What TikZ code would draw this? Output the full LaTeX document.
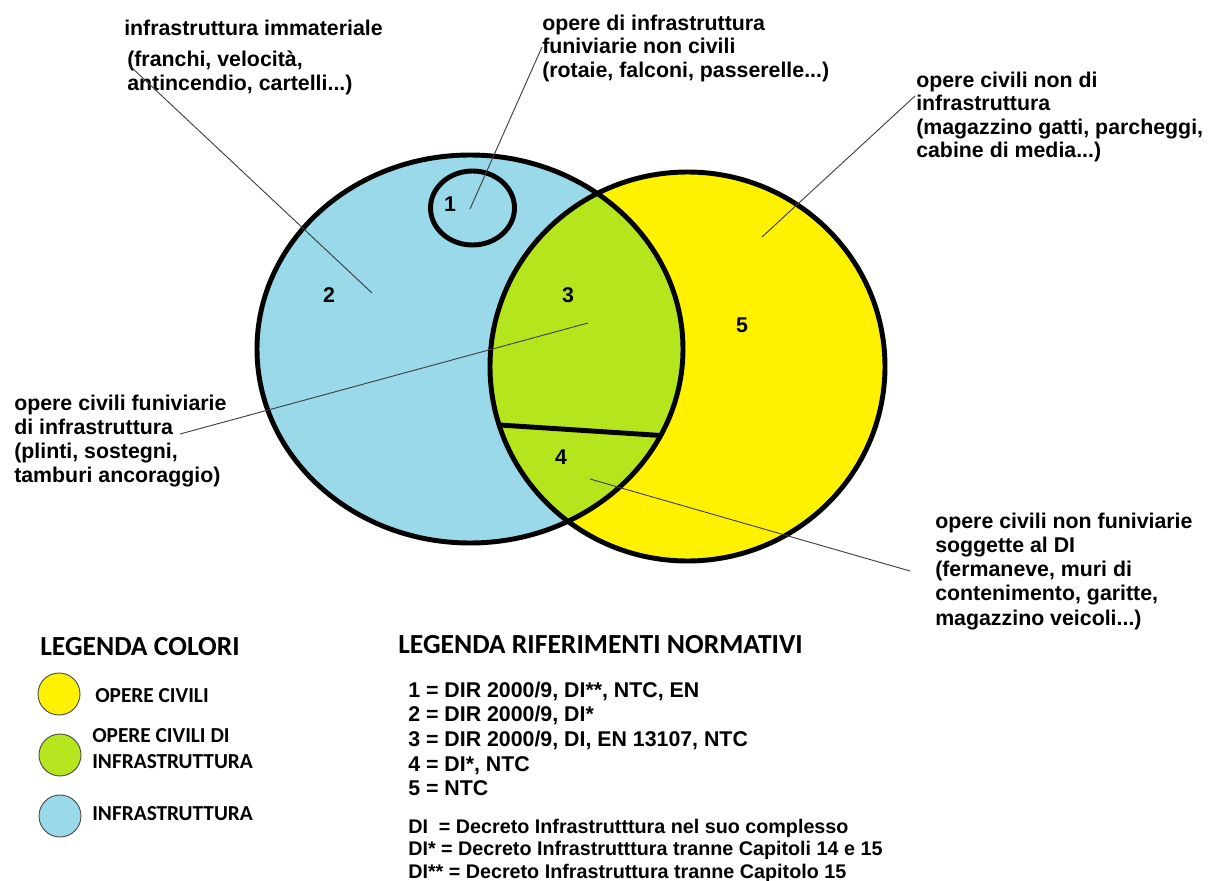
\documentclass[tikz,border=0pt]{standalone}
\usepackage{fontspec}
\setmainfont{Liberation Sans}
\newfontfamily\legfont{Carlito}
\usepackage{tikz}
\usetikzlibrary{positioning}
\definecolor{infra}{RGB}{153,217,234}
\definecolor{civili}{RGB}{255,242,0}
\definecolor{misto}{RGB}{181,230,29}

\begin{document}
\begin{tikzpicture}[x=0.75pt, y=-0.75pt,
  bordo/.style={line width=3.7pt},
  leader/.style={line width=0.7pt, black!75},
  note/.style={inner sep=0pt, anchor=north west, align=left, font=\bfseries\fontsize{16}{17.6}\selectfont},
  num/.style={inner sep=0pt, font=\bfseries\fontsize{16}{18}\selectfont},
  leg/.style={inner sep=0pt, anchor=base west, font=\legfont\bfseries\fontsize{16}{19.5}\selectfont},
  legtitle/.style={leg, font=\legfont\bfseries\fontsize{20.7}{24}\selectfont},
  dot/.style={circle, draw=black!70, line width=0.7pt, minimum size=31.5pt, inner sep=0pt}]
  \useasboundingbox (0,0) rectangle (1208,881);
  % the two sets
  \fill[infra] (470,349) ellipse [x radius=213, y radius=194];
  \fill[civili] (687.5,366.5) ellipse [x radius=197.5, y radius=194.5];
  \begin{scope}
    \clip (470,349) ellipse [x radius=213, y radius=194];
    \fill[misto] (687.5,366.5) ellipse [x radius=197.5, y radius=194.5];
    \clip (687.5,366.5) ellipse [x radius=197.5, y radius=194.5];
    \draw[bordo] (480,423.7) -- (690,437.4); % 3 / 4
  \end{scope}
  \draw[bordo] (470,349) ellipse [x radius=213, y radius=194];
  \draw[bordo] (687.5,366.5) ellipse [x radius=197.5, y radius=194.5];
  \draw[bordo] (472.5,208) ellipse [x radius=42, y radius=37];
  % zone numbers
  \node[num] (n1) at (450,204) {1};
  \node[num] (n2) at (329,295) {2};
  \node[num] (n3) at (568,295) {3};
  \node[num] (n4) at (561,457) {4};
  \node[num] (n5) at (742,325) {5};
  % notes
  \node[note] (tImmat) at (124,19.4) {infrastruttura immateriale};
  \node[note, font=\bfseries\fontsize{16}{18}\selectfont] (tImmatEs) at (127,51) {(franchi, velocità,\\antincendio, cartelli...)};
  \node[note] (tUno) at (542,14.4) {opere di infrastruttura\\funiviarie non civili\\(rotaie, falconi, passerelle...)};
  \node[note] (tCinque) at (916,71.4) {opere civili non di\\infrastruttura\\(magazzino gatti, parcheggi,\\cabine di media...)};
  \node[note, font=\bfseries\fontsize{16}{18}\selectfont] (tTre) at (14,394.4) {opere civili funiviarie\\di infrastruttura\\(plinti, sostegni,\\tamburi ancoraggio)};
  \node[note, font=\bfseries\fontsize{16}{18.2}\selectfont] (tQuattro) at (935,512.4) {opere civili non funiviarie\\soggette al DI\\(fermaneve, muri di\\contenimento, garitte,\\magazzino veicoli...)};
  % leaders
  \coordinate (pImmat) at (130,66);    \coordinate (qImmat) at (372,293);
  \coordinate (pUno) at (542,47);      \coordinate (qUno) at (470,209);
  \coordinate (pCinque) at (915,96);   \coordinate (qCinque) at (762,237);
  \coordinate (pTre) at (180,434);     \coordinate (qTre) at (588,323);
  \coordinate (pQuattro) at (910,571); \coordinate (qQuattro) at (590,479);
  \draw[leader] (pImmat) -- (qImmat);
  \draw[leader] (pUno) -- (qUno);
  \draw[leader] (pCinque) -- (qCinque);
  \draw[leader] (pTre) -- (qTre);
  \draw[leader] (pQuattro) -- (qQuattro);
  % colour legend
  \node[legtitle] (legColori) at (40,655) {LEGENDA COLORI};
  \node[dot, fill=civili] (dCivili) at (59,694) {};
  \node[dot, fill=misto] (dMisto) at (60,755) {};
  \node[dot, fill=infra] (dInfra) at (60,816) {};
  \node[leg] (lCivili) at (95,702) {OPERE CIVILI};
  \node[leg, anchor=north west, align=left] (lMisto) at (92,728) {OPERE CIVILI DI\\INFRASTRUTTURA};
  \node[leg] (lInfra) at (92,820) {INFRASTRUTTURA};
  % normative legend
  \node[legtitle] (legNorme) at (398,653) {LEGENDA RIFERIMENTI NORMATIVI};
  \node[note, font=\bfseries\fontsize{16}{18.5}\selectfont] (tNorme) at (408,681.4) {1 = DIR 2000/9, DI**, NTC, EN\\2 = DIR 2000/9, DI*\\3 = DIR 2000/9, DI, EN 13107, NTC\\4 = DI*, NTC\\5 = NTC};
  \node[note, font=\bfseries\fontsize{14.8}{16.9}\selectfont] (tSigle) at (408,818.6) {DI\ \ = Decreto Infrastrutttura nel suo complesso\\DI* = Decreto Infrastrutttura tranne Capitoli 14 e 15\\DI** = Decreto Infrastruttura tranne Capitolo 15};
\end{tikzpicture}
\end{document}
